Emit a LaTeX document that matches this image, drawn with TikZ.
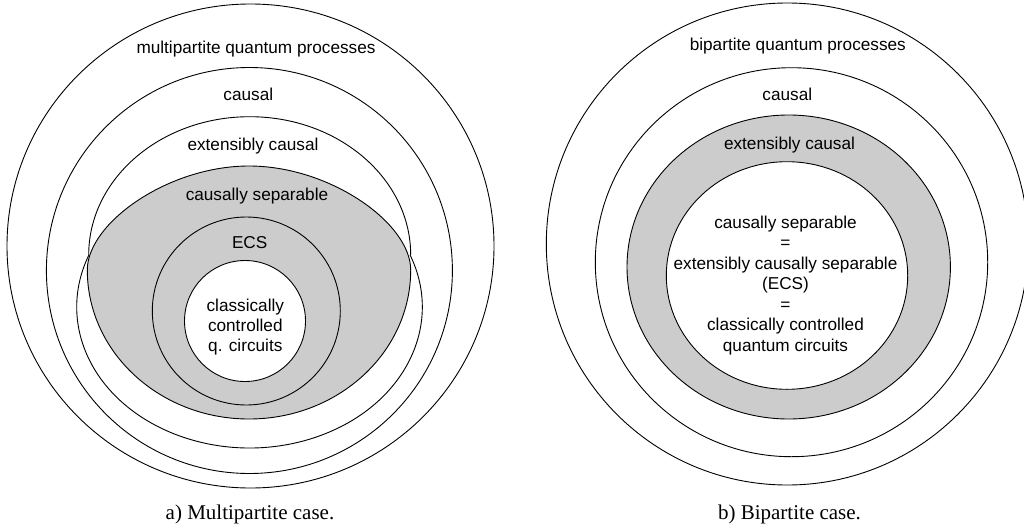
\documentclass[tikz,border=0pt]{standalone}
\usepackage{fontspec}
\setmainfont{Liberation Serif}
\newfontfamily\arialf{Liberation Sans}
\begin{document}
\begin{tikzpicture}[x=1pt,y=-1pt,
  ring/.style={draw=black,line width=0.9pt},
  shaded/.style={draw=black,line width=0.9pt,fill=grayfill},
  blank/.style={draw=black,line width=0.9pt,fill=white},
  lab/.style={font=\arialf\fontsize{17.2}{20}\selectfont,inner sep=0pt,anchor=base},
  capt/.style={font=\rmfamily\fontsize{21}{24}\selectfont,inner sep=0pt,anchor=base}]
\definecolor{grayfill}{RGB}{204,204,204}
\useasboundingbox (0,0) rectangle (1024,527);
\clip (0,0) rectangle (1024,527);
% ---------- left: multipartite ----------
\draw[ring] (250.5,246) ellipse [x radius=243.5, y radius=242];
\draw[ring] (249.4,270.5) circle [radius=203];
% extensibly causal (upper arc)
\draw[ring] (88.7,255) arc [start angle=180, end angle=360, x radius=161, y radius=138.3];
% lower arc crossing the causally separable region
\draw[ring] (410.1,255) arc [start angle=-21.64, end angle=201.64, x radius=172.8, y radius=141];
% causally separable (shaded)
\draw[shaded] (249,166) .. controls (168,166) and (87.3,223.2) .. (87.3,270)
  .. controls (87.3,352.3) and (159.7,419) .. (249,419)
  .. controls (338.3,419) and (410.7,352.3) .. (410.7,270)
  .. controls (410.7,223.2) and (330,166) .. (249,166) -- cycle;
\draw[ring] (246.3,311) circle [radius=94];
\draw[blank] (245,321) circle [radius=60.5];
\node[lab] (mqp) at (256,54) {multipartite quantum processes};
\node[lab] (mc) at (248.3,100) {causal};
\node[lab] (mec) at (253,150) {extensibly causal};
\node[lab] (mcs) at (257,200.5) {causally separable};
\node[lab] (mecs) at (249.7,248) {ECS};
\node[lab] (mcc1) at (245.3,311.5) {classically};
\node[lab] (mcc2) at (245.3,331.5) {controlled};
\node[lab] (mcc3) at (245.3,351.5) {q. circuits};
\node[capt] (capa) at (250,519) {a) Multipartite case.};
% ---------- right: bipartite ----------
\draw[ring] (787.3,244) circle [radius=241];
\draw[ring] (791.5,262.2) ellipse [x radius=196.2, y radius=194.5];
\draw[shaded] (788.7,267) ellipse [x radius=161.7, y radius=152];
\draw[blank] (787,275.5) ellipse [x radius=120.7, y radius=113.8];
\node[lab] (bqp) at (797.8,50) {bipartite quantum processes};
\node[lab] (bc) at (787.3,100) {causal};
\node[lab] (bec) at (789.5,149.5) {extensibly causal};
\node[lab] (b1) at (785.5,228) {causally separable};
\node[lab] (b2) at (785.5,248.5) {=};
\node[lab] (b3) at (785.5,269) {extensibly causally separable};
\node[lab] (b4) at (785.5,289.5) {(ECS)};
\node[lab] (b5) at (785.5,310) {=};
\node[lab] (b6) at (785.5,330.5) {classically controlled};
\node[lab] (b7) at (785.5,351) {quantum circuits};
\node[capt] (capb) at (789.5,519) {b) Bipartite case.};
\end{tikzpicture}
\end{document}
